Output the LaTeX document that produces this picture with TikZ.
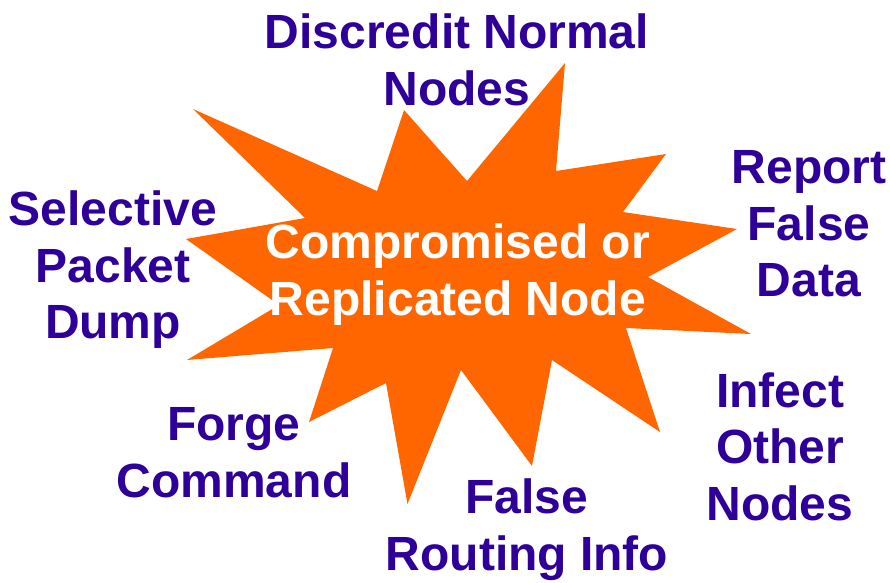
\documentclass[tikz,border=0pt]{standalone}
\usepackage{fontspec}
\setmainfont{Liberation Sans}
\definecolor{starorange}{RGB}{255,102,0}
\definecolor{labelblue}{RGB}{46,0,153}
\begin{document}
\begin{tikzpicture}[x=1pt,y=-1pt,
  lbl/.style={align=center,anchor=base,inner sep=0pt,text=labelblue,
    font=\fontsize{48}{56.5}\selectfont\bfseries},
  centerlbl/.style={lbl,text=white}]
\useasboundingbox (0,0) rectangle (890,582);
\fill[starorange] (193,109) -- (377,191) -- (404,110) -- (467,181) -- (565,63)
  -- (556,171) -- (666,154) -- (623,212) -- (737,229) -- (648,277) -- (751,334)
  -- (626,328) -- (660,432) -- (552,360) -- (532,466) -- (461,370) -- (407.5,504)
  -- (386,383) -- (309,422) -- (333,348) -- (187,360) -- (279,305) -- (186,239)
  -- (305,218) -- cycle;
\node[centerlbl] (center) at (458,315) {Compromised or\\Replicated Node};
\node[lbl] (discredit) at (457,105) {Discredit Normal\\Nodes};
\node[lbl] (report) at (809,296.5) {Report\\False\\Data};
\node[lbl] (selective) at (113,338.5) {Selective\\Packet\\Dump};
\node[lbl] (forge) at (234,497) {Forge\\Command};
\node[lbl] (routing) at (527,570) {False\\Routing Info};
\node[lbl] (infect) at (780,520) {Infect\\Other\\Nodes};
\end{tikzpicture}
\end{document}
